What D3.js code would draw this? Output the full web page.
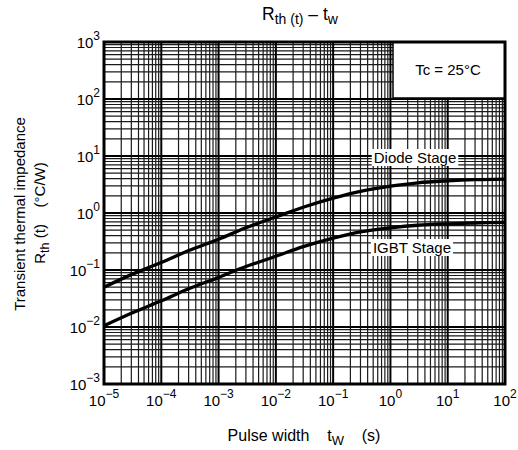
<!DOCTYPE html>
<html><head><meta charset="utf-8">
<script src="https://cdn.jsdelivr.net/npm/d3@7"></script>
<style>body{margin:0;background:#fff}svg{display:block;font-family:"Liberation Sans",Arial,sans-serif}text{white-space:pre}</style>
</head><body><svg id="c" width="518" height="450"></svg>
<script>
const pulseWidth = [1e-5, 3e-5, 1e-4, 3e-4, 1e-3, 3e-3, 1e-2, 3e-2, 1e-1, 3e-1, 1, 3, 10, 30, 100];
const diodeRth   = [0.050, 0.083, 0.135, 0.219, 0.347, 0.55, 0.85, 1.26, 1.82, 2.40, 2.95, 3.39, 3.67, 3.85, 3.94];
const igbtRth    = [0.0105, 0.0174, 0.0288, 0.0468, 0.0741, 0.115, 0.174, 0.257, 0.363, 0.468, 0.550, 0.610, 0.646, 0.668, 0.684];
const xTickExp = [-5, -4, -3, -2, -1, 0, 1, 2];
const yTickExp = [-3, -2, -1, 0, 1, 2, 3];
const seriesNames = ["Diode Stage", "IGBT Stage"];

const svg = d3.select("#c");
const L = 104, R = 505, T = 42, B = 384;
const x = d3.scaleLog().domain([1e-5, 1e2]).range([L, R]);
const y = d3.scaleLog().domain([1e-3, 1e3]).range([B, T]);

const g = svg.append("g");
const minorX = [], minorY = [];
for (let e = -5; e < 2; e++) for (let k = 2; k <= 9; k++) minorX.push(k * Math.pow(10, e));
for (let e = -3; e < 3; e++) for (let k = 2; k <= 9; k++) minorY.push(k * Math.pow(10, e));
g.selectAll(".mx").data(minorX).enter().append("line")
  .attr("x1", d => x(d)).attr("x2", d => x(d)).attr("y1", T).attr("y2", B)
  .attr("stroke", "#1a1a1a").attr("stroke-width", 1.2);
g.selectAll(".my").data(minorY).enter().append("line")
  .attr("y1", d => y(d)).attr("y2", d => y(d)).attr("x1", L).attr("x2", R)
  .attr("stroke", "#1a1a1a").attr("stroke-width", 1.2);
g.selectAll(".Mx").data(xTickExp).enter().append("line")
  .attr("x1", d => x(Math.pow(10, d))).attr("x2", d => x(Math.pow(10, d))).attr("y1", T).attr("y2", B)
  .attr("stroke", "#000").attr("stroke-width", 2);
g.selectAll(".My").data(yTickExp).enter().append("line")
  .attr("y1", d => y(Math.pow(10, d))).attr("y2", d => y(Math.pow(10, d))).attr("x1", L).attr("x2", R)
  .attr("stroke", "#000").attr("stroke-width", 2);

// Tc box
svg.append("rect").attr("x", 393).attr("y", T).attr("width", R - 393).attr("height", 98 - T)
  .attr("fill", "#fff").attr("stroke", "#000").attr("stroke-width", 1.5);
svg.append("text").attr("x", 448).attr("y", 75).attr("text-anchor", "middle")
  .attr("font-size", 15).text("Tc = 25°C");

// curves
const line = d3.line().x(d => x(d[0])).y(d => y(d[1])).curve(d3.curveCatmullRom.alpha(0.5));
[diodeRth, igbtRth].forEach(s => {
  svg.append("path").datum(pulseWidth.map((p, i) => [p, s[i]]))
    .attr("d", line).attr("fill", "none").attr("stroke", "#000").attr("stroke-width", 3.3);
});

// series labels
const labPos = [[415, 158], [412, 248]];
seriesNames.forEach((n, i) => {
  const t = svg.append("text").attr("x", labPos[i][0]).attr("y", labPos[i][1] + 5)
    .attr("text-anchor", "middle").attr("font-size", 15).text(n);
  const bb = t.node().getBBox();
  svg.insert("rect", () => t.node()).attr("x", bb.x - 2).attr("y", bb.y).attr("width", bb.width + 4)
    .attr("height", bb.height).attr("fill", "#fff");
});

// frame
svg.append("rect").attr("x", L).attr("y", T).attr("width", R - L).attr("height", B - T)
  .attr("fill", "none").attr("stroke", "#000").attr("stroke-width", 3);

function pow10Label(sel) {
  sel.append("tspan").text("10");
  sel.append("tspan").attr("dy", -8).attr("font-size", 12).text(d => d < 0 ? "\u2212" + (-d) : d);
}
svg.selectAll(".xl").data(xTickExp).enter().append("text")
  .attr("x", d => x(Math.pow(10, d))).attr("y", 406).attr("text-anchor", "middle")
  .attr("font-size", 15).call(pow10Label);
svg.selectAll(".yl").data(yTickExp).enter().append("text")
  .attr("x", 100).attr("y", d => y(Math.pow(10, d)) + 6).attr("text-anchor", "end")
  .attr("font-size", 15).call(pow10Label);

// title
const title = svg.append("text").attr("x", 300).attr("y", 20).attr("text-anchor", "middle").attr("font-size", 17.5);
title.append("tspan").text("R");
title.append("tspan").attr("dy", 4).attr("font-size", 14).text("th (t)");
title.append("tspan").attr("dy", -4).text(" \u2013 t");
title.append("tspan").attr("dy", 4).attr("font-size", 14).text("w");

// x label
const xl = svg.append("text").attr("x", 304).attr("y", 441).attr("text-anchor", "middle").attr("font-size", 16);
xl.append("tspan").text("Pulse width    t");
xl.append("tspan").attr("dy", 4).attr("font-size", 13).text("W");
xl.append("tspan").attr("dy", -4).text("    (s)");

// y label
svg.append("text").attr("transform", "translate(25,214) rotate(-90)").attr("text-anchor", "middle").attr("font-size", 15)
  .text("Transient thermal impedance");
const yl2 = svg.append("text").attr("transform", "translate(45,213) rotate(-90)").attr("text-anchor", "middle").attr("font-size", 15);
yl2.append("tspan").text("R");
yl2.append("tspan").attr("dy", 4).attr("font-size", 12.5).text("th");
yl2.append("tspan").attr("dy", -4).text(" (t)    (°C/W)");
</script></body></html>
